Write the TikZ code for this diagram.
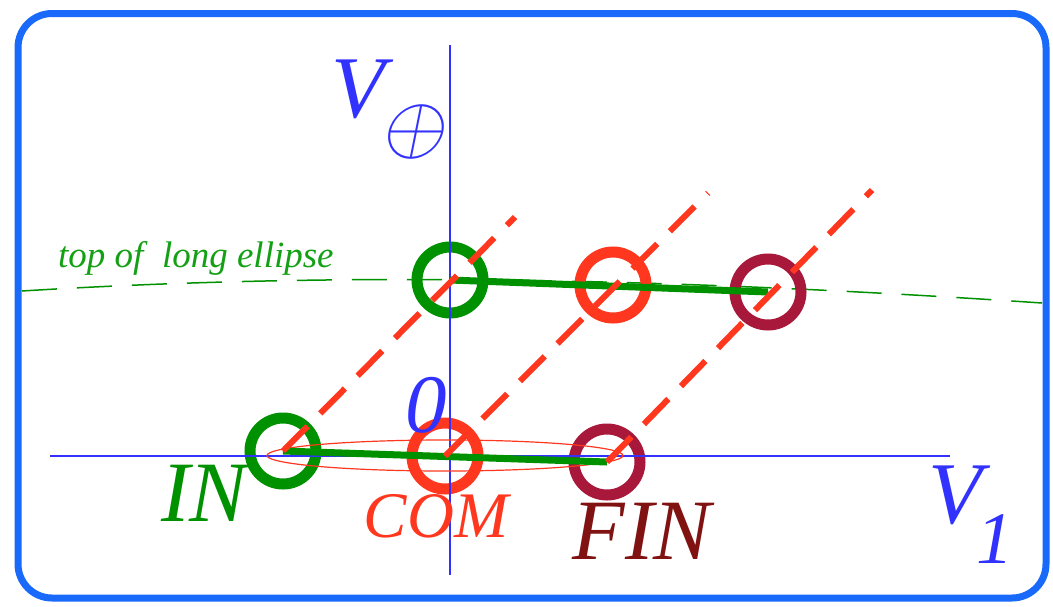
\documentclass[tikz,border=0pt]{standalone}
\usepackage{fontspec}
\setmainfont{Liberation Serif}
\usetikzlibrary{shapes.geometric}
\definecolor{frameblue}{RGB}{25,105,250}
\definecolor{axisblue}{RGB}{50,50,255}
\definecolor{ggreen}{RGB}{0,145,0}
\definecolor{tgreen}{RGB}{20,160,20}
\definecolor{rred}{RGB}{255,55,30}
\definecolor{maroonc}{RGB}{168,24,58}
\definecolor{finred}{RGB}{128,18,18}
\newcommand{\fsz}[1]{\fontsize{#1}{#1}\selectfont\itshape}
\begin{document}
\begin{tikzpicture}[x=1pt,y=-1pt,
  frame/.style={draw=frameblue,line width=7pt,rounded corners=34pt},
  axisline/.style={draw=axisblue,line width=2.5pt},
  ring/.style={circle,draw,line width=11pt,minimum size=66pt,inner sep=0pt},
  traj/.style={draw=ggreen,line width=7pt},
  diag/.style={draw=rred,line width=6pt,dash pattern=on 35pt off 18pt},
  topline/.style={draw=ggreen,line width=1.5pt,dash pattern=on 35pt off 20pt},
  lbl/.style={inner sep=0pt}
]
\useasboundingbox (0,0) rectangle (1053,606);
\draw[frame] (18,13.5) rectangle (1046,598);

% long ellipse top (dashed)
\coordinate (tl) at (22,291);
\coordinate (tr) at (1042,303);
\draw[topline] (tl) .. controls (360,270) and (700,280) .. (tr);
\node[lbl,anchor=base west,text=tgreen,font=\fsz{37}] (toplbl) at (58,267) {top of\ \ long ellipse};

% circles
\node[ring,draw=ggreen] (in) at (283,451) {};
\node[ring,draw=rred] (com) at (445,456) {};
\node[ring,draw=maroonc] (fin) at (607,462) {};
\node[ring,draw=ggreen] (tin) at (450,280) {};
\node[ring,draw=rred] (tcom) at (613,285) {};
\node[ring,draw=maroonc] (tfin) at (768,292) {};

% axes
\coordinate (vtopend) at (450,45);
\coordinate (vbotend) at (450,575);
\coordinate (hleft) at (50,456);
\coordinate (hright) at (950,456);
\draw[axisline] (vtopend) -- (vbotend);
\draw[axisline] (hleft) -- (hright);

% small ellipse
\node[draw=rred,line width=1.2pt,ellipse,minimum width=356pt,minimum height=31pt,inner sep=0pt] (smallell) at (445,455.5) {};

% green trajectories
\draw[traj] (in.center) -- (fin.center);
\draw[traj] (tin.center) -- (tfin.center);

% red dashed diagonals
\coordinate (e1) at (515,217);
\coordinate (e2) at (708,193);
\coordinate (e3) at (872,190);
\draw[diag] (in.center) -- (e1);
\draw[diag] (com.center) -- (e2);
\draw[diag] (fin.center) -- (e3);

% labels
\node[lbl,text=axisblue,font=\fsz{88}] (vt) at (358,89) {V};
\node[lbl,text=axisblue,scale=8.2,xslant=0.2] (vsub) at (416,132) {$\oplus$};
\node[lbl,text=axisblue,font=\fsz{88}] (v1) at (955,495) {V};
\node[lbl,text=axisblue,font=\fsz{74}] (v1sub) at (995,539) {1};
\node[lbl,text=axisblue,font=\fsz{83}] (zero) at (426,405) {0};
\node[lbl,text=ggreen,font=\fsz{86}] (inl) at (204,493) {IN};
\node[lbl,text=rred,font=\fsz{65}] (coml) at (436,516) {COM};
\node[lbl,text=finred,font=\fsz{86}] (finl) at (642,531) {FIN};
\end{tikzpicture}
\end{document}
